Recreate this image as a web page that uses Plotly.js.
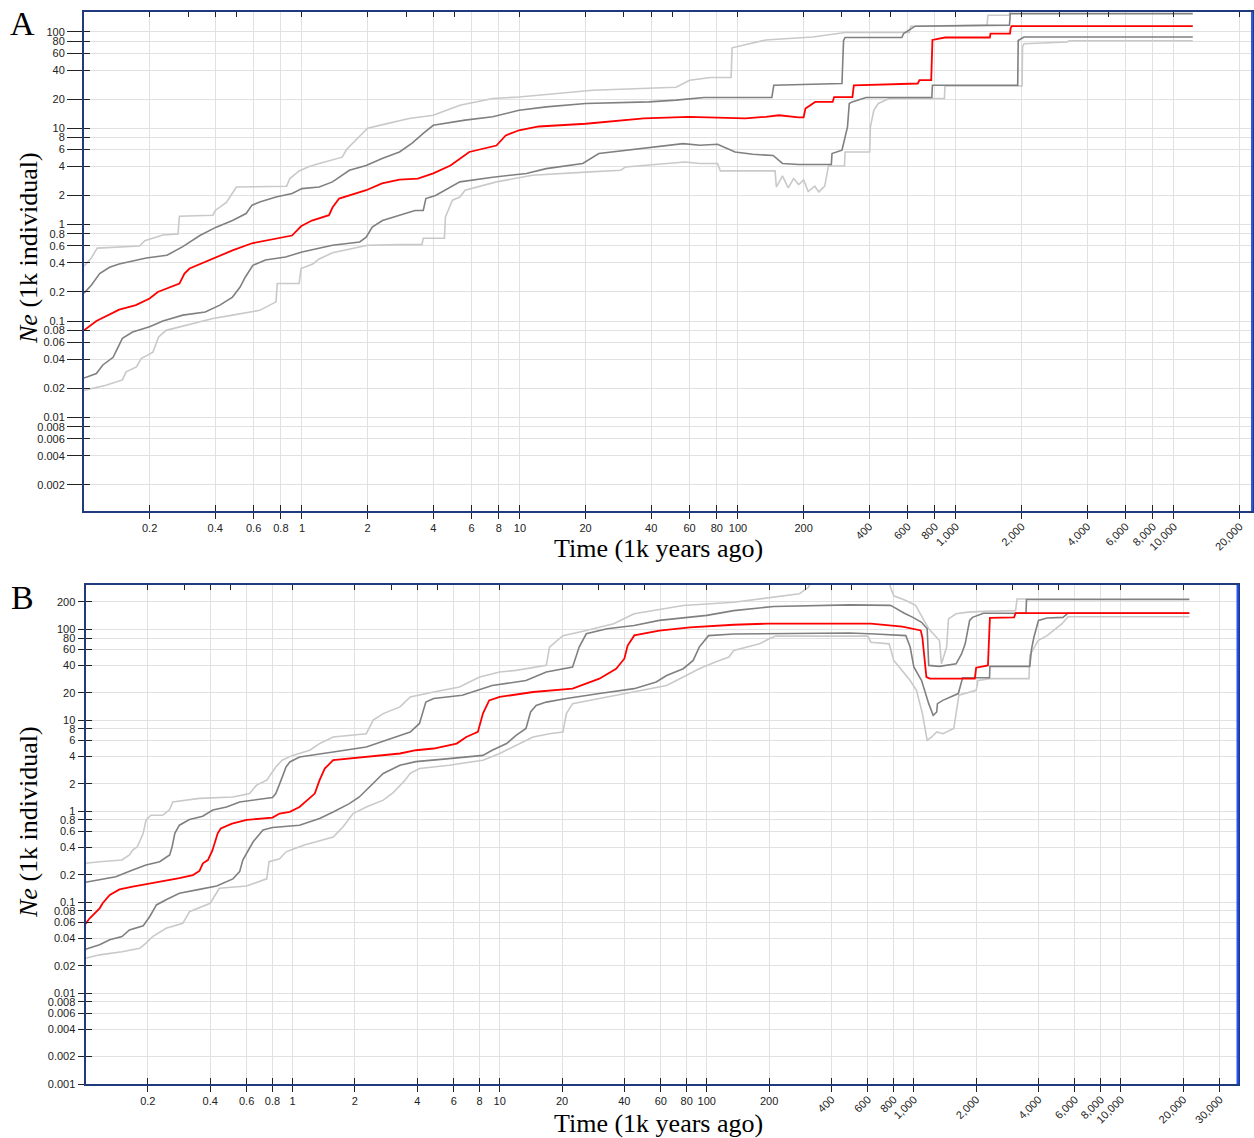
<!DOCTYPE html>
<html><head><meta charset="utf-8">
<script src="https://cdn.plot.ly/plotly-3.0.1.min.js"></script>
<style>html,body{margin:0;padding:0;background:#fff}</style>
</head><body>
<div id="chart" style="width:1254px;height:1138px"></div>
<script>
// ---------- Panel A data (time in 1k years ago, Ne in 1k individuals) ----------
const A_med_t = [0.1,0.114,0.145,0.173,0.2,0.218,0.274,0.289,0.305,0.39,0.48,0.59,0.9,0.99,1.11,1.33,1.38,1.48,1.97,2.33,2.8,3.4,4.0,4.8,5.85,7.8,8.6,9.9,12.2,20,37,59.5,108,134,154,190,200,204,226,272,276,335,340,668,680,770,780,890,1430,1440,1770,1780,1800,12200];
const A_med_ne = [0.08,0.1,0.131,0.146,0.171,0.2,0.244,0.31,0.35,0.444,0.54,0.64,0.77,0.96,1.1,1.25,1.5,1.86,2.27,2.67,2.93,3.0,3.4,4.1,5.66,6.6,8.4,9.5,10.4,11.1,12.6,13.1,12.6,13.1,13.6,12.9,12.9,16,18.7,18.7,21,21,27.8,29,31.4,31.4,82,87,87,95.6,95.6,108,114,114];

const A_hi50_t = [0.1,0.108,0.118,0.131,0.145,0.193,0.24,0.284,0.34,0.404,0.48,0.554,0.59,0.64,0.76,0.9,1.0,1.2,1.38,1.65,1.97,2.33,2.8,3.2,3.6,4.0,5.6,7.5,9.9,13.2,20,39,52,70,143,146,300,305,310,565,575,640,650,1760,1775,12200];
const A_hi50_ne = [0.194,0.235,0.31,0.36,0.39,0.45,0.48,0.59,0.77,0.94,1.1,1.3,1.59,1.71,1.93,2.1,2.36,2.45,2.77,3.66,4.1,4.84,5.66,7.0,8.8,10.7,12.1,13.1,15.3,16.6,18.0,18.7,19.5,20.8,20.8,27.8,29,81,87,87,95.6,112,114,117,154,154];

const A_hi95_t = [0.1,0.108,0.115,0.18,0.19,0.23,0.27,0.274,0.39,0.40,0.45,0.50,0.85,0.88,0.97,1.08,1.2,1.53,1.6,1.77,2.0,2.4,3.1,4.0,5.3,7.5,9.9,21.5,52,60,75,93,94,134,220,310,610,620,1390,1400,1760,1770,12200];
const A_hi95_ne = [0.37,0.45,0.57,0.60,0.68,0.78,0.8,1.22,1.25,1.4,1.7,2.45,2.5,3.0,3.6,4.0,4.3,5.0,6.0,7.5,10,11,12.6,13.6,17.3,20.3,21,24.7,26.5,31.4,33.5,33.5,68,82,88,98,98,114,117,148,148,180,180];

const A_lo50_t = [0.1,0.114,0.122,0.136,0.15,0.167,0.2,0.23,0.284,0.36,0.42,0.48,0.52,0.55,0.595,0.68,0.84,1.0,1.38,1.84,1.97,2.1,2.34,2.8,3.3,3.6,3.7,4.1,4.55,5.3,7.5,10.7,13.2,19.4,23,40.7,56,67,80.6,97,117,145,160,190,268,270,300,318,324,334,387,775,780,1920,1930,2050,12200];
const A_lo50_ne = [0.0256,0.0285,0.035,0.042,0.066,0.077,0.087,0.10,0.115,0.124,0.146,0.177,0.225,0.286,0.378,0.43,0.46,0.52,0.61,0.66,0.74,0.94,1.1,1.25,1.4,1.4,1.86,2.0,2.27,2.77,3.1,3.38,3.8,4.3,5.45,6.38,6.9,6.65,6.8,5.66,5.35,5.2,4.3,4.2,4.2,5.45,5.9,10.3,18,18.7,20.8,20.8,27.8,27.8,81,88,88];

const A_lo95_t = [0.1,0.126,0.15,0.156,0.174,0.183,0.207,0.22,0.238,0.294,0.39,0.48,0.64,0.76,0.77,0.97,0.99,1.12,1.2,1.38,1.71,2.0,2.8,3.55,3.6,4.5,4.55,4.9,5.3,5.6,7.8,11.4,20,29,30.5,57,67,80.6,83,148,150,160,170,180,190,200,210,225,235,250,260,308,310,402,405,420,440,495,885,890,2010,2020,2050,3250,3300,12200];
const A_lo95_ne = [0.0191,0.0216,0.0245,0.0297,0.0334,0.0407,0.0476,0.0683,0.080,0.090,0.106,0.115,0.129,0.158,0.245,0.245,0.35,0.39,0.44,0.51,0.57,0.61,0.62,0.62,0.72,0.72,1.2,1.79,1.93,2.27,2.77,3.25,3.5,3.66,3.96,4.46,4.3,4.3,3.6,3.6,2.45,3.2,2.4,3.0,2.6,2.9,2.2,2.5,2.18,2.5,4.05,4.05,5.66,5.66,10.3,15.3,18,20.3,20.3,27.3,27.3,69.4,75,78,80.5,80.5];

// ---------- Panel B data ----------
const B_med_t = [0.1,0.1045,0.117,0.121,0.131,0.146,0.169,0.236,0.284,0.33,0.355,0.369,0.39,0.41,0.435,0.45,0.51,0.6,0.8,0.866,0.97,1.08,1.21,1.28,1.35,1.43,1.57,2.27,3.3,3.94,4.8,6.2,6.9,7.85,8.3,8.9,10,14.5,22.5,30.3,36.5,40,41.5,44.7,59,83,135,195,620,880,1080,1100,1150,1195,1970,2000,2280,2330,3050,3100,21400];
const B_med_ne = [0.0575,0.066,0.0854,0.097,0.12,0.138,0.148,0.168,0.183,0.198,0.22,0.267,0.29,0.37,0.57,0.645,0.73,0.80,0.85,0.94,0.98,1.11,1.38,1.56,2.19,2.94,3.63,3.94,4.3,4.67,4.88,5.53,6.54,7.43,11.8,16.5,18,20.4,22.2,28.6,36.8,47.4,66.2,85.5,96.7,105,112,115,115,107,97,81,29.8,28.6,28.6,37.7,40,133,135,150,150];

const B_hi50_t = [0.1,0.117,0.14,0.169,0.196,0.228,0.255,0.262,0.27,0.284,0.318,0.368,0.412,0.48,0.555,0.8,0.83,0.88,0.93,0.97,1.08,1.57,2.27,3.3,3.7,4.1,4.4,4.8,6.6,9.2,13.4,16.8,22.5,24.2,26.2,33,44.6,59,100,135,211,490,770,800,850,900,990,1090,1160,1180,1330,1600,1700,1770,1860,1920,2170,3480,3500,21400];
const B_hi50_ne = [0.165,0.175,0.19,0.225,0.256,0.278,0.329,0.406,0.57,0.70,0.81,0.88,1.03,1.11,1.26,1.41,1.56,2.19,3.06,3.47,3.94,4.47,5.08,6.8,7.4,9.2,15.8,17.3,18.8,24,27.3,33.9,38.4,63.6,89,101,110,125,142,160,178,185,183,175,160,150,135,119,101,40,39,41.6,53.5,69,125,135,150,150,212,212];

const B_hi95_t = [0.1,0.117,0.15,0.163,0.169,0.178,0.19,0.196,0.207,0.236,0.254,0.264,0.355,0.515,0.62,0.67,0.75,0.83,0.89,1.0,1.21,1.35,1.57,2.27,2.45,2.74,3.3,3.7,4.8,6.4,8.0,10,12,16.8,17.4,20.2,26.2,35.5,44.6,77,135,195,280,310,330,765,770,800,915,1020,1100,1180,1330,1360,1440,1470,1600,1830,2170,3100,3150,21400];
const B_hi95_ne = [0.267,0.278,0.29,0.329,0.373,0.406,0.57,0.80,0.90,0.90,1.03,1.26,1.38,1.43,1.56,1.93,2.19,3.06,3.63,4.1,4.67,5.53,6.54,7.1,10,11.8,14,18,20.4,23.1,29.8,33.9,35.3,40,63.6,85,96.7,115,148,182,198,220,245,290,400,400,290,233,207,183,135,101,75,41.6,63.6,130,148,154,157,160,215,215];

const B_lo50_t = [0.1,0.117,0.131,0.15,0.163,0.19,0.204,0.22,0.245,0.284,0.355,0.43,0.515,0.555,0.575,0.6,0.645,0.72,0.8,1.08,1.35,1.57,1.88,2.1,2.35,2.74,3.3,3.94,5.7,8.3,9.2,10.8,12.0,13.4,14.1,15,16.8,21,30.3,44.6,57,64,77,86,92,102,135,490,650,915,960,1000,1090,1180,1240,1290,1300,1380,1640,1700,1720,2320,2330,3630,3700,3800,4000,4400,5250,5550,21400];
const B_lo50_ne = [0.0303,0.034,0.0385,0.0418,0.0495,0.055,0.069,0.093,0.106,0.125,0.138,0.15,0.18,0.216,0.29,0.343,0.46,0.62,0.66,0.70,0.83,0.98,1.21,1.43,1.85,2.59,3.2,3.5,3.78,4.1,4.67,5.53,6.8,8.1,12.3,14.5,15.8,17.3,19.6,22.2,26.3,31,36.8,45.4,63.6,85,88.5,91,88.5,85,63.6,38.4,27.3,15.2,11.3,12.3,15.2,16.5,19.6,27.3,29.3,29.3,39,39,60,81.5,125,133,135,150,150];

const B_lo95_t = [0.1,0.117,0.15,0.183,0.196,0.211,0.245,0.295,0.318,0.4,0.443,0.6,0.75,0.77,0.866,0.93,1.08,1.16,1.3,1.57,1.75,1.96,2.27,2.74,3.06,3.5,3.7,4.1,5.7,8.3,10,12,14.5,17.4,20.2,21,22.5,30.3,44.6,64,77,92,110,128,135,180,200,215,600,620,760,800,850,915,960,1030,1100,1160,1220,1290,1380,1560,1650,2000,2040,2330,3600,3630,3980,4400,5200,5550,21400];
const B_lo95_ne = [0.0241,0.0263,0.0285,0.031,0.0354,0.0418,0.0515,0.0584,0.0785,0.097,0.142,0.15,0.18,0.278,0.30,0.357,0.406,0.43,0.46,0.52,0.67,0.94,1.11,1.32,1.6,2.2,2.6,2.94,3.2,3.63,4.3,5.3,6.54,7.1,7.4,11.8,15.2,17.3,20.4,24,29.8,36.8,43.5,49.5,58.4,69,78.6,84,84,72,69,45.4,38.4,31,27.3,21.3,11.8,6.0,6.54,7.43,7.1,8.1,18.8,21.3,27.3,28.6,28.6,51.5,75,85,115,137,137];

// ---------- tick values ----------
const xTicksSmall = [0.2,0.4,0.6,0.8,1,2,4,6,8,10,20,40,60,80,100,200];
const xTicksLargeA = [400,600,800,1000,2000,4000,6000,8000,10000,20000];
const xTicksLargeB = [400,600,800,1000,2000,4000,6000,8000,10000,20000,30000];
const xTicksTop = [0.2,0.3,0.4,0.5,1,2,3,4,5,10,20,30,40,50,100,200,300,400,500,1000,2000,3000,4000,5000,10000,20000];
const yTicksA = [0.002,0.004,0.006,0.008,0.01,0.02,0.04,0.06,0.08,0.1,0.2,0.4,0.6,0.8,1,2,4,6,8,10,20,40,60,80,100];
const yTicksB = [0.001,0.002,0.004,0.006,0.008,0.01,0.02,0.04,0.06,0.08,0.1,0.2,0.4,0.6,0.8,1,2,4,6,8,10,20,40,60,80,100,200];

const fmt = v => String(v).replace(/\B(?=(\d{3})+(?!\d))/g, ',');

// ---------- style ----------
const LIGHT = '#c9c9c9', DARK = '#808080', RED = '#ff0000';
const NAVY = '#1f3b7d', GRID = '#e1e1e1', TICKC = '#222';
const tickFont = {family:'Liberation Sans, Arial, sans-serif', size:11, color:'#222'};
const serif = 'Liberation Serif, Times New Roman, serif';

function line(t, ne, color, w, xa, ya) {
  return {x:t, y:ne, type:'scatter', mode:'lines', xaxis:xa, yaxis:ya,
          line:{color:color, width:w, shape:'linear'}, hoverinfo:'skip', showlegend:false};
}
function empty(xa, ya) {
  return {x:[], y:[], type:'scatter', mode:'lines', xaxis:xa, yaxis:ya, showlegend:false, hoverinfo:'skip'};
}

const traces = [
  line(A_hi95_t, A_hi95_ne, LIGHT, 1.6, 'x', 'y'),
  line(A_lo95_t, A_lo95_ne, LIGHT, 1.6, 'x', 'y'),
  line(A_hi50_t, A_hi50_ne, DARK, 1.6, 'x', 'y'),
  line(A_lo50_t, A_lo50_ne, DARK, 1.6, 'x', 'y'),
  line(A_med_t, A_med_ne, RED, 1.8, 'x', 'y'),
  line(B_hi95_t, B_hi95_ne, LIGHT, 1.6, 'x2', 'y2'),
  line(B_lo95_t, B_lo95_ne, LIGHT, 1.6, 'x2', 'y2'),
  line(B_hi50_t, B_hi50_ne, DARK, 1.6, 'x2', 'y2'),
  line(B_lo50_t, B_lo50_ne, DARK, 1.6, 'x2', 'y2'),
  line(B_med_t, B_med_ne, RED, 1.8, 'x2', 'y2'),
  empty('x3','y'), empty('x5','y'), empty('x7','y'), empty('x','y3'),
  empty('x4','y2'), empty('x6','y2'), empty('x8','y2'), empty('x2','y4')
];

const W = 1254, H = 1138, ML = 84, MR = 0, MT = 12, MB = 54;
const PW = W - ML - MR, PH = H - MT - MB;
const px = v => (v - ML) / PW;            // pixel x -> paper
const py = v => (H - MB - v) / PH;        // pixel y -> paper

const domXA = [px(84), px(1252)], domXB = [px(85.5), px(1237.5)];
const domYA = [py(511), py(12)], domYB = [py(1084), py(585)];
const rangeXA = [-1, 4.358], rangeXB = [-1, 4.563];
const rangeYA = [-2.97, 2.204], rangeYB = [-3, 2.486];

function mainX(dom, range, large, anchor) {
  const vals = xTicksSmall.concat(large);
  return {domain:dom, anchor:anchor, type:'log', range:range, tickmode:'array',
    tickvals:vals, ticktext:xTicksSmall.map(fmt).concat(large.map(()=> '')),
    ticks:'outside', ticklen:6, tickwidth:1, tickcolor:TICKC, tickfont:tickFont,
    showgrid:true, gridcolor:GRID, gridwidth:1, zeroline:false,
    showline:true, linecolor:NAVY, linewidth:2, mirror:true, tickangle:0};
}
function labelX(over, anchor, range, large) {
  return {overlaying:over, anchor:anchor, type:'log', range:range, tickmode:'array',
    tickvals:large, ticktext:large.map(fmt), ticks:'', tickangle:-45, tickfont:tickFont,
    showgrid:false, showline:false, zeroline:false, ticklabelstandoff:6};
}
function inX(over, anchor, range, vals, side, len) {
  return {overlaying:over, anchor:anchor, side:side, type:'log', range:range, tickmode:'array',
    tickvals:vals, ticks:'inside', ticklen:len, tickwidth:1, tickcolor:TICKC,
    showticklabels:false, showgrid:false, showline:false, zeroline:false};
}
function mainY(dom, range, vals, anchor, len) {
  return {domain:dom, anchor:anchor, type:'log', range:range, tickmode:'array',
    tickvals:vals, ticktext:vals.map(fmt), ticks:'outside', ticklen:len, tickwidth:1,
    tickcolor:TICKC, tickfont:tickFont, showgrid:true, gridcolor:GRID, gridwidth:1,
    zeroline:false, showline:true, linecolor:NAVY, linewidth:2, mirror:true};
}
function inY(over, anchor, range, vals) {
  return {overlaying:over, anchor:anchor, side:'left', type:'log', range:range, tickmode:'array',
    tickvals:vals, ticks:'inside', ticklen:6, tickwidth:1, tickcolor:TICKC,
    showticklabels:false, showgrid:false, showline:false, zeroline:false};
}

const allBottomA = xTicksSmall.concat(xTicksLargeA);
const allBottomB = xTicksSmall.concat(xTicksLargeB);

const layout = {
  width:W, height:H, margin:{l:ML, r:MR, t:MT, b:MB},
  paper_bgcolor:'#fff', plot_bgcolor:'#fff', showlegend:false,
  xaxis: mainX(domXA, rangeXA, xTicksLargeA, 'y'),
  xaxis2: mainX(domXB, rangeXB, xTicksLargeB, 'y2'),
  xaxis3: labelX('x', 'y', rangeXA, xTicksLargeA),
  xaxis4: labelX('x2', 'y2', rangeXB, xTicksLargeB),
  xaxis5: inX('x', 'y', rangeXA, allBottomA, 'bottom', 6),
  xaxis6: inX('x2', 'y2', rangeXB, allBottomB, 'bottom', 6),
  xaxis7: inX('x', 'y', rangeXA, xTicksTop, 'top', 5),
  xaxis8: inX('x2', 'y2', rangeXB, xTicksTop, 'top', 5),
  yaxis: mainY(domYA, rangeYA, yTicksA, 'x', 15),
  yaxis2: mainY(domYB, rangeYB, yTicksB, 'x2', 6),
  yaxis3: inY('y', 'x', rangeYA, yTicksA),
  yaxis4: inY('y2', 'x2', rangeYB, yTicksB),
  shapes: [
    {type:'line', xref:'x domain', yref:'y domain', x0:1, x1:1, y0:0, y1:1, line:{color:'#2f57e0', width:2}},
    {type:'line', xref:'x2 domain', yref:'y2 domain', x0:1, x1:1, y0:0, y1:1, line:{color:'#2255ff', width:2}}
  ],
  annotations: [
    {text:'A', xref:'paper', yref:'paper', x:px(22), y:py(24), xanchor:'center', yanchor:'middle', showarrow:false, font:{family:serif, size:34, color:'#000'}},
    {text:'B', xref:'paper', yref:'paper', x:px(22), y:py(598), xanchor:'center', yanchor:'middle', showarrow:false, font:{family:serif, size:34, color:'#000'}},
    {text:'Time (1k years ago)', xref:'paper', yref:'paper', x:px(658), y:py(548), xanchor:'center', yanchor:'middle', showarrow:false, font:{family:serif, size:26, color:'#000'}},
    {text:'Time (1k years ago)', xref:'paper', yref:'paper', x:px(658), y:py(1123), xanchor:'center', yanchor:'middle', showarrow:false, font:{family:serif, size:26, color:'#000'}},
    {text:'<i>Ne</i> (1k individual)', xref:'paper', yref:'paper', x:px(28), y:py(248), xanchor:'center', yanchor:'middle', textangle:-90, showarrow:false, font:{family:serif, size:26, color:'#000'}},
    {text:'<i>Ne</i> (1k individual)', xref:'paper', yref:'paper', x:px(28), y:py(822), xanchor:'center', yanchor:'middle', textangle:-90, showarrow:false, font:{family:serif, size:26, color:'#000'}}
  ]
};

Plotly.newPlot('chart', traces, layout, {displayModeBar:false, staticPlot:true});
</script>
</body></html>
